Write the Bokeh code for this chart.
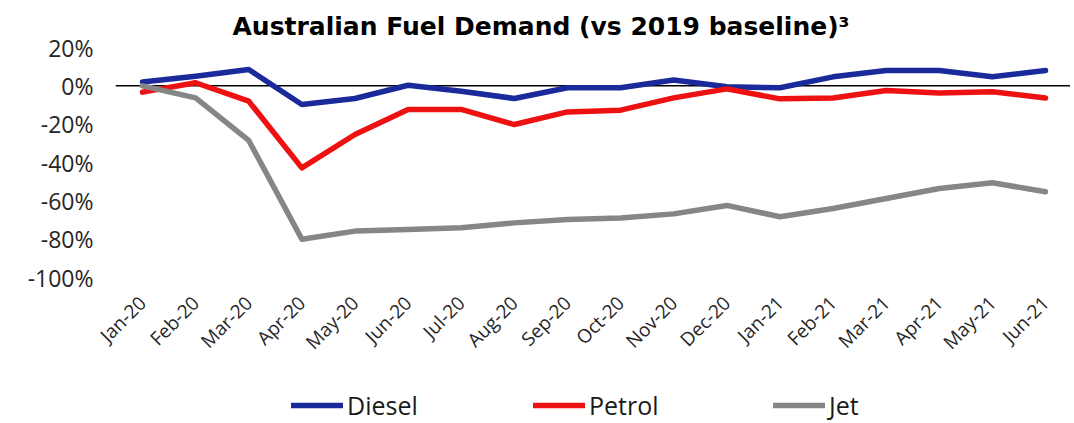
from bokeh.plotting import figure
from bokeh.layouts import column
from bokeh.models import Range1d, FixedTicker, Span, Legend, LegendItem
from bokeh.embed import file_html
from bokeh.resources import INLINE
import math

months = ["Jan-20", "Feb-20", "Mar-20", "Apr-20", "May-20", "Jun-20", "Jul-20", "Aug-20",
          "Sep-20", "Oct-20", "Nov-20", "Dec-20", "Jan-21", "Feb-21", "Mar-21", "Apr-21",
          "May-21", "Jun-21"]
diesel = [2, 5, 8.5, -9.7, -6.6, 0.3, -2.8, -6.6, -1, -1, 3, -0.5, -1, 4.7, 8, 8, 4.7, 8]
petrol = [-3.3, 1.6, -8, -42.8, -25.4, -12.3, -12.3, -20.2, -13.6, -12.7, -6.3, -1.6,
          -6.8, -6.3, -2.4, -3.7, -3.1, -6.4]
jet = [0, -6.3, -28.5, -80, -75.8, -75, -74, -71.5, -69.7, -69, -66.8, -62.4, -68.3,
       -64, -58.8, -53.6, -50.6, -55.3]
y_ticks = [-100, -80, -60, -40, -20, 0, 20]

series = [("Diesel", diesel, "#1B2A9B"), ("Petrol", petrol, "#EE1111"), ("Jet", jet, "#868686")]

FONT = "Open Sans"
xs = list(range(len(months)))

W = 1070
LEFT = 115

p = figure(width=W, height=372, output_backend="svg", toolbar_location=None,
           x_range=Range1d(-0.508, 17.47), y_range=Range1d(-100, 20),
           min_border_left=LEFT, min_border_right=0, min_border_top=47, min_border_bottom=95,
           title="Australian Fuel Demand (vs 2019 baseline)\u00b3")
p.outline_line_color = None
p.grid.visible = False
p.background_fill_color = "white"

p.title.text_font = "DejaVu Sans"
p.title.text_font_size = "25px"
p.title.text_font_style = "bold"
p.title.text_color = "black"
p.title.align = "left"
p.title.offset = 117
p.title.standoff = 14

p.yaxis.ticker = FixedTicker(ticks=y_ticks)
p.yaxis.major_label_overrides = {t: f"{t}%" for t in y_ticks}
p.yaxis.axis_line_color = None
p.yaxis.major_tick_line_color = None
p.yaxis.minor_tick_line_color = None
p.yaxis.major_tick_out = 0
p.yaxis.major_tick_in = 0
p.yaxis.minor_tick_out = 0
p.yaxis.major_label_text_font = FONT
p.yaxis.major_label_text_font_size = "23px"
p.yaxis.major_label_text_color = "#262626"
p.yaxis.major_label_standoff = 22

p.xaxis.ticker = FixedTicker(ticks=xs)
p.xaxis.major_label_overrides = {i: m for i, m in enumerate(months)}
p.xaxis.axis_line_color = None
p.xaxis.major_tick_line_color = None
p.xaxis.minor_tick_line_color = None
p.xaxis.major_tick_out = 0
p.xaxis.major_tick_in = 0
p.xaxis.minor_tick_out = 0
p.xaxis.major_label_text_font = FONT
p.xaxis.major_label_text_font_size = "19px"
p.xaxis.major_label_text_color = "#262626"
p.xaxis.major_label_orientation = math.pi / 4
p.xaxis.major_label_standoff = 22

p.add_layout(Span(location=0, dimension="width", line_color="black", line_width=1.5, level="underlay"))

for name, vals, color in series:
    p.line(xs, vals, line_color=color, line_width=5.5, line_cap="round", line_join="round")

# legend strip below the chart (its series lie outside its visible ranges)
lf = figure(width=W, height=50, output_backend="svg", toolbar_location=None,
            x_range=Range1d(1000, 1001), y_range=Range1d(1000, 1001),
            x_axis_location=None, y_axis_location=None,
            min_border_left=LEFT, min_border_right=0, min_border_top=0, min_border_bottom=0)
lf.outline_line_color = None
lf.grid.visible = False

legend_x = [176, 418, 658]
for (name, vals, color), lx in zip(series, legend_x):
    r = lf.line(xs, vals, line_color=color, line_width=5.5, line_cap="round")
    lg = Legend(items=[LegendItem(label=name, renderers=[r])], location=(lx, 0),
                orientation="horizontal", glyph_width=52, glyph_height=20, label_standoff=4,
                label_text_font=FONT, label_text_font_size="25px", label_text_color="#1a1a1a",
                border_line_color=None, background_fill_alpha=0, padding=0, margin=0)
    lf.add_layout(lg, "center")

layout = column(p, lf, spacing=0)
open("out.html", "w").write(file_html(layout, INLINE))
